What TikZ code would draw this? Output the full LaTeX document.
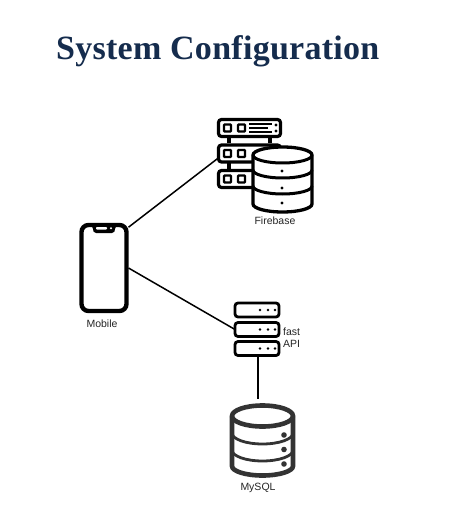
\documentclass[tikz,border=0pt]{standalone}
\usepackage{fontspec}
\setmainfont{Liberation Sans}
\newfontfamily\titlefont[LetterSpace=0.8]{Liberation Serif}
\definecolor{titleblue}{HTML}{152C4D}
\definecolor{dbgrey}{HTML}{333333}
\tikzset{
  x=1pt,y=-1pt,
  label text/.style={font=\fontsize{10.5}{12}\selectfont,text=black!85,inner sep=0pt},
  rackA/.style={draw=black,line width=3.2pt,rounded corners=3pt,fill=white,minimum width=62pt,minimum height=17pt,inner sep=0pt,outer sep=0pt},
  rackB/.style={draw=black,line width=2.8pt,rounded corners=3pt,fill=white,minimum width=44pt,minimum height=14pt,inner sep=0pt,outer sep=0pt},
  link/.style={draw=black,line width=1.5pt},
  slot/.style={draw=black,line width=2.4pt,rounded corners=0.8pt},
  stub/.style={draw=black,line width=4pt},
  dbA/.style={draw=black,line width=3.3pt,fill=white},
  dbB/.style={draw=dbgrey,line width=4.6pt,fill=white},
  arcA/.style={draw=black,line width=3pt},
  arcB/.style={draw=dbgrey,line width=2.8pt},
}
\begin{document}
\begin{tikzpicture}
\useasboundingbox (0,0) rectangle (465,529);
\fill[white] (0,0) rectangle (465,529);

% title
\node[anchor=base west,inner sep=0pt,text=titleblue,font=\titlefont\bfseries\fontsize{34}{36}\selectfont] (title) at (56,60) {System Configuration};

% firebase rack stubs
\foreach \sx in {229,270}{
  \draw[stub] (\sx,137) -- (\sx,143);
  \draw[stub] (\sx,163) -- (\sx,170);
}
\node[rackA] (fbtop) at (249.5,128) {};
\node[rackA] (fbmid) at (249.5,153.5) {};
\node[rackA] (fbbot) at (249.5,179) {};
\foreach \ry in {128,153.5,179}{
  \draw[slot] (224,\ry-3.5) rectangle (231,\ry+3.5);
  \draw[slot] (238,\ry-3.5) rectangle (245,\ry+3.5);
}
\draw[black,line width=1.8pt] (249,124) -- (272,124) (249,128) -- (268,128) (249,132) -- (272,132);
\fill[black] (276,125) circle (1.7pt) (276,131) circle (1.7pt);

% firebase database
\path[dbA] (253,155) -- (253,204) arc[start angle=180,end angle=0,x radius=29.5pt,y radius=-8pt] -- (312,155) arc[start angle=0,end angle=180,x radius=29.5pt,y radius=8pt] -- cycle;
\draw[arcA] (253,155) arc[start angle=180,end angle=0,x radius=29.5pt,y radius=-8pt];
\draw[arcA] (253,170) arc[start angle=180,end angle=0,x radius=29.5pt,y radius=-8pt];
\draw[arcA] (253,186) arc[start angle=180,end angle=0,x radius=29.5pt,y radius=-8pt];
\fill[black] (282,171) circle (1.6pt) (282,188) circle (1.6pt) (282,203) circle (1.6pt);
\node[label text] (firebase) at (275,221) {Firebase};

% phone
\node[draw=black,line width=4.4pt,rounded corners=7pt,minimum width=45pt,minimum height=86pt,inner sep=0pt,outer sep=2pt,fill=white] (phone) at (104,268) {};
\fill[black] (91,224) -- (117,224) -- (115,229) to[out=-80,in=0] (112,233) -- (96,233) to[out=180,in=-100] (93,229) -- cycle;
\fill[white,rounded corners=0.8pt] (96,227) rectangle (107,229.5);
\fill[white] (111,228.2) circle (1.1pt);
\node[label text] (mobile) at (102,324) {Mobile};

% fast API rack
\node[rackB] (fasttop) at (257,310) {};
\node[rackB] (fastmid) at (257,329.5) {};
\node[rackB] (fastbot) at (257,348.5) {};
\foreach \ry in {310,329.5,348.5}{
  \fill[black] (260,\ry) circle (1.3pt) (268,\ry) circle (1.3pt) (275,\ry) circle (1.3pt);
}
\node[label text,anchor=base west] (fast) at (283,335) {fast};
\node[label text,anchor=base west] (api) at (283,347) {API};

% mysql database
\path[dbB] (232,416) -- (232,466) arc[start angle=180,end angle=0,x radius=30.5pt,y radius=-9.5pt] -- (293,416) arc[start angle=0,end angle=180,x radius=30.5pt,y radius=10.5pt] -- cycle;
\draw[dbB,fill=none] (232,416) arc[start angle=180,end angle=0,x radius=30.5pt,y radius=-10.5pt];
\draw[arcB] (232,433) arc[start angle=180,end angle=0,x radius=30.5pt,y radius=-11pt];
\draw[arcB] (232,450) arc[start angle=180,end angle=0,x radius=30.5pt,y radius=-11pt];
\fill[dbgrey] (284,435) circle (2.8pt) (284,449.5) circle (2.8pt) (284,464) circle (2.8pt);
\node[label text] (mysql) at (258,488) {MySQL};
\coordinate (mysqltop) at (258,399);

% connectors
\draw[link] (phone.59) -- (fbmid.188);
\draw[link] (phone.east) -- (fastmid.west);
\draw[draw=black,line width=2pt] (fastbot.south -| mysqltop) -- (mysqltop);
\end{tikzpicture}
\end{document}
